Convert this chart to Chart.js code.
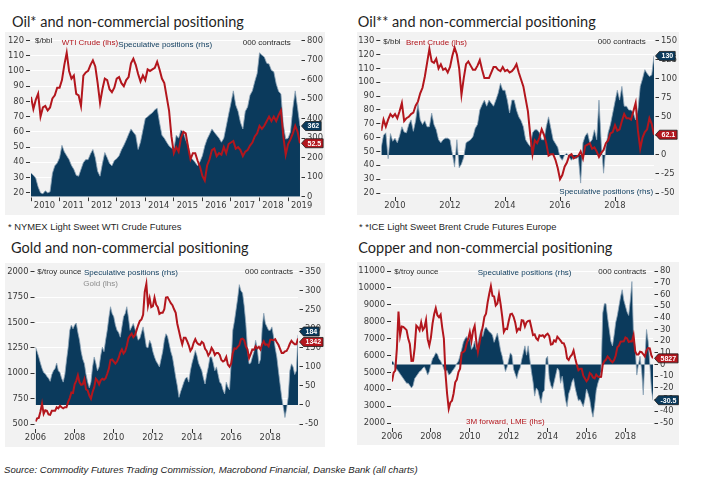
<!DOCTYPE html>
<html>
<head>
<meta charset="utf-8">
<script src="https://cdn.jsdelivr.net/npm/chart.js@4.4.1/dist/chart.umd.min.js"></script>
<style>
  body{margin:0;width:702px;height:500px;background:#fff;position:relative;overflow:hidden;font-family:"Liberation Sans",Arial,sans-serif;}
  .t{position:absolute;white-space:nowrap;line-height:1;}
  .ttl{font-family:Lato,"Liberation Sans",sans-serif;font-size:14.5px;color:#1f1f1f;}
  .note{font-size:9.4px;color:#1f1f1f;}
  .lb{font-size:8px;color:#2a2a2a;}
  .red{color:#b3161d;} .navy{color:#0b3a5c;} .grey{color:#8c8c8c;}
  .box{position:absolute;background:#f2f2f2;}
  .box canvas{position:absolute;left:0;top:0;}
</style>
</head>
<body>
<div class="box"><canvas id="c1"></canvas></div>
<div class="box"><canvas id="c2"></canvas></div>
<div class="box"><canvas id="c3"></canvas></div>
<div class="box"><canvas id="c4"></canvas></div>

<div class="t ttl" style="left:12px;top:15.2px">Oil* and non-commercial positioning</div>
<div class="t ttl" style="left:357.7px;top:15.2px">Oil** and non-commercial positioning</div>
<div class="t ttl" style="left:11px;top:240.9px">Gold and non-commercial positioning</div>
<div class="t ttl" style="left:358.3px;top:240.9px">Copper and non-commercial positioning</div>

<div class="t lb" style="left:35px;top:36.8px">$/bbl</div>
<div class="t lb red" style="left:61.7px;top:38.8px">WTI Crude (lhs)</div>
<div class="t lb navy" style="left:118.3px;top:41.1px">Speculative positions (rhs)</div>
<div class="t lb" style="left:242.7px;top:38.8px">000 contracts</div>

<div class="t lb" style="left:383.3px;top:37.8px">$/bbl</div>
<div class="t lb red" style="left:406px;top:38.8px">Brent Crude (lhs)</div>
<div class="t lb" style="left:597.7px;top:37.8px">000 contracts</div>
<div class="t lb navy" style="left:559.3px;top:187.8px">Speculative positions (rhs)</div>

<div class="t lb" style="left:37.3px;top:268.4px">$/troy ounce</div>
<div class="t lb navy" style="left:84px;top:269.4px">Speculative positions (rhs)</div>
<div class="t lb grey" style="left:83.3px;top:280.4px">Gold (lhs)</div>
<div class="t lb" style="left:245px;top:268.4px">000 contracts</div>

<div class="t lb" style="left:394.3px;top:267.8px">$/troy ounce</div>
<div class="t lb navy" style="left:477.7px;top:268.8px">Speculative positions (rhs)</div>
<div class="t lb" style="left:598.3px;top:267.8px">000 contracts</div>
<div class="t lb red" style="left:466px;top:417.8px">3M forward, LME (lhs)</div>

<div class="t note" style="left:8px;top:222.4px">* NYMEX Light Sweet WTI Crude Futures</div>
<div class="t note" style="left:359px;top:222.4px">* *ICE Light Sweet Brent Crude Futures Europe</div>
<div class="t note" style="left:4px;top:465.4px;font-style:italic;font-size:9.6px">Source: Commodity Futures Trading Commission, Macrobond Financial, Danske Bank (all charts)</div>

<script>
// ---- data (monthly) ----
const wtiYears = [2010,2011,2012,2013,2014,2015,2016,2017,2018,2019];
const wtiLeftTicks = [20,30,40,50,60,70,80,90,100,110,120];
const wtiRightTicks = [0,100,200,300,400,500,600,700,800];
const wtiPrice = [
  83,75,81,85,70,76,77,74,76,82,84,89,
  89,94,104,112,100,95,97,85,84,77,97,99,
  100,104,107,103,92,79,88,95,94,88,86,89,
  95,96,92,90,94,96,105,108,104,98,93,97,
  94,101,100,101,102,106,101,95,92,83,74,57,
  46,50,47,56,60,59,50,42,46,46,41,37,
  31,28,38,42,48,49,44,46,45,50,46,52,
  53,54,49,50,48,44,47,48,51,53,57,59,
  64,62,64,67,70,67,70,67,71,74,57,45,
  52,55,59,64,60,52.5
];
const wtiSpec = [
  121,110,95,50,20,15,30,20,25,120,158,172,
  200,263,230,210,190,160,140,110,105,140,175,190,
  190,220,242,200,130,105,170,226,200,170,158,185,
  195,210,240,263,290,320,347,330,315,242,280,340,
  400,410,421,430,445,453,380,315,300,279,260,250,
  242,315,300,342,330,290,263,200,190,175,158,180,
  210,260,295,320,347,330,315,300,279,300,360,421,
  480,542,470,437,380,347,437,460,520,542,590,631,
  737,725,716,684,680,647,640,579,540,526,368,295,
  300,332,453,542,453,362
];

const brentYears = [2010,2012,2014,2016,2018];
const brentLeftTicks = [20,30,40,50,60,70,80,90,100,110,120,130];
const brentRightTicks = [-50,-25,0,25,50,75,100,125,150];
const brentPrice = [
  65,73,68,73,77,75,
  77,74,79,85,72,74,75,77,78,83,86,92,
  96,104,114,124,115,114,117,110,113,109,110,107,
  111,119,125,120,110,91,103,113,115,112,109,109,
  112,116,109,103,103,103,107,111,111,109,108,111,
  108,109,107,108,110,113,107,102,97,88,79,62,
  48,58,56,60,66,62,56,47,48,48,44,38,
  30,33,39,42,47,48,45,46,47,50,45,54,
  55,56,52,53,50,46,49,51,56,58,63,64,
  69,65,66,72,77,74,74,73,79,85,65,52,
  60,64,66,74,70,62.1
];
const brentSpec = [
  10,26,29,-5,28,18,
  22,16,25,37,30,29,40,46,31,45,68,46,
  40,45,37,37,55,40,33,20,16,20,22,22,
  20,2,-16,20,-17,-12,-3,16,18,20,24,35,
  40,59,66,72,64,72,68,64,72,81,94,85,
  85,72,55,72,72,59,50,45,37,20,15,11,
  29,33,33,29,20,20,37,50,35,20,15,10,
  -3,-7,0,2,-3,-7,-3,-5,-3,-37,16,25,
  29,16,20,33,20,72,15,-24,10,29,40,55,
  70,85,72,90,64,64,59,59,55,46,60,90,
  100,112,107,103,105,130
];

const goldYears = [2006,2008,2010,2012,2014,2016,2018];
const goldLeftTicks = [500,750,1000,1250,1500,1750,2000];
const goldRightTicks = [-50,0,50,100,150,200,250,300,350];
const goldPrice = [
  525,555,560,620,700,600,635,630,595,590,630,630,
  630,665,655,680,665,655,665,665,715,755,810,805,
  890,925,980,910,885,890,940,840,830,780,750,815,
  860,945,925,890,930,945,935,950,995,1045,1130,1135,
  1115,1095,1115,1150,1205,1235,1195,1215,1270,1345,1370,1390,
  1355,1375,1425,1475,1515,1530,1575,1800,1880,1665,1740,1650,
  1660,1745,1675,1650,1585,1595,1595,1630,1745,1750,1720,1690,
  1670,1630,1595,1485,1415,1345,1285,1350,1350,1315,1275,1220,
  1245,1300,1335,1300,1285,1280,1310,1295,1240,1220,1175,1200,
  1250,1225,1180,1200,1200,1180,1130,1115,1125,1160,1085,1065,
  1095,1200,1245,1240,1260,1275,1335,1340,1325,1265,1235,1150,
  1190,1235,1230,1265,1245,1260,1235,1285,1315,1280,1285,1265,
  1330,1330,1325,1335,1305,1280,1240,1200,1200,1215,1220,1250,
  1290,1320,1300,1285,1285,1342
];
const goldSpec = [
  152,140,126,110,96,85,82,75,70,62,80,90,
  96,110,90,85,70,60,80,117,150,196,210,200,
  210,215,190,170,140,120,108,80,60,45,60,100,
  126,110,90,100,130,152,140,170,196,230,258,240,
  232,210,196,190,178,205,232,240,258,230,196,205,
  214,200,185,170,175,190,205,180,152,150,170,160,
  140,126,115,108,100,120,140,170,187,180,160,140,
  126,100,73,50,20,35,47,60,70,73,60,90,
  110,126,143,130,110,100,90,70,55,80,100,126,
  126,110,90,100,80,60,55,40,29,60,47,40,
  110,196,220,250,280,316,300,294,260,214,150,108,
  110,126,140,170,150,108,120,200,241,214,205,196,
  196,205,180,150,126,90,55,20,-6,-33,-10,20,
  90,108,100,80,90,184
];

const copperYears = [2006,2008,2010,2012,2014,2016,2018];
const copperLeftTicks = [2000,3000,4000,5000,6000,7000,8000,9000,10000,11000];
const copperRightTicks = [-50,-40,-30,-20,-10,0,10,20,30,40,50,60,70,80];
const copperPrice = [
  4450,4982,5103,6387,8600,7196,7712,7692,7600,7500,6996,6675,
  5670,5676,6452,7766,7662,7485,7960,7510,7652,8100,6963,6587,
  7061,7888,8439,8800,8382,8260,8414,7634,6990,4926,3717,2850,
  3220,3314,3749,4407,4569,5014,5216,6165,6196,6288,6676,6982,
  7386,6848,7463,7745,6838,6200,6735,7284,7709,8292,8470,9147,
  9650,10100,9530,9493,8959,9067,9619,9040,8300,7394,7581,7565,
  8040,8441,8471,8289,7955,7423,7584,7515,8088,8062,7711,7966,
  8047,8060,7645,7204,7250,7000,6906,7189,7159,7203,7071,7215,
  7291,7149,6650,6674,6891,6821,7113,7002,6872,6737,6713,6446,
  5831,5729,5940,6042,6295,5833,5456,5127,5217,5216,4800,4638,
  4472,4599,4954,4873,4695,4642,4864,4751,4722,4731,5450,5660,
  5755,5941,5825,5684,5600,5720,5985,6485,6580,6812,6827,6834,
  7066,7006,6799,6838,6825,7200,6250,6051,6054,6220,6195,6070,
  5939,6300,6440,6420,6000,5827
];
const copperSpec = [
  3,2,-3,-4,-6,-8,-10,-12,-14,-16,-16,-18,
  -20,-18,-12,-10,-8,-6,-5,-3,-2,-5,-9,-6,
  0,5,7,10,9,5,3,0,-4,-6,-5,-9,
  -8,-6,-4,-2,1,3,8,13,19,22,24,20,
  24,13,15,20,13,18,25,30,24,30,32,30,
  28,27,25,19,23,27,20,12,7,0,-6,-2,
  4,10,8,-4,-8,-12,-6,-3,4,10,16,8,
  16,5,-6,-15,-27,-20,-22,-28,-33,-24,-22,5,
  7,-12,-18,-21,-15,-9,-3,-5,-16,-10,-20,-30,
  -36,-25,-21,-15,-12,-20,-26,-31,-30,-33,-36,-30,
  -21,-25,-30,-39,-45,-35,-22,-16,-12,-6,44,52,
  52,40,30,20,16,25,36,42,50,58,64,55,
  50,45,42,55,71,24,15,-9,0,7,-5,-26,
  5,30,20,1,-21,-30.5
];

// ---- styling ----
const RED = '#b3161d', NAVY = '#0b3a5c', EDGE = '#8ea4b8';
Chart.defaults.font.family = '"DejaVu Sans", sans-serif';
Chart.defaults.font.size = 8.4;
Chart.defaults.color = '#3a3a3a';
Chart.defaults.animation = false;

function months(start, vals){ return vals.map(function(v,i){ return {x:start+i/12, y:v}; }); }

// little value flags at the right axis (last point of each series)
const flagPlugin = {
  id:'flags',
  afterDraw(chart){
    const ctx = chart.ctx, ca = chart.chartArea, H = 9;
    const items = chart.data.datasets.map(function(ds){
      const last = ds.data[ds.data.length-1].y;
      return {y: chart.scales[ds.yAxisID].getPixelForValue(last), text: String(last), color: ds.flagColor};
    }).sort(function(a,b){return a.y-b.y;});
    for(let k=1;k<items.length;k++){
      const a=items[k-1], b=items[k];
      if(b.y-a.y<H+1.5){ const m=(a.y+b.y)/2; a.y=m-(H+1.5)/2; b.y=m+(H+1.5)/2; }
    }
    ctx.save();
    ctx.font = 'bold 7px "Liberation Sans", Arial, sans-serif';
    items.forEach(function(it){
      const w = ctx.measureText(it.text).width + 4;
      const x0 = ca.right + 1.5, bx = x0 + 4;
      ctx.beginPath();
      ctx.moveTo(x0, it.y);
      ctx.lineTo(bx, it.y - H/2);
      ctx.lineTo(bx + w, it.y - H/2);
      ctx.lineTo(bx + w, it.y + H/2);
      ctx.lineTo(bx, it.y + H/2);
      ctx.closePath();
      ctx.fillStyle = it.color; ctx.fill();
      ctx.strokeStyle = '#1a1a1a'; ctx.lineWidth = 0.8; ctx.stroke();
      ctx.fillStyle = '#fff'; ctx.textAlign = 'center'; ctx.textBaseline = 'middle';
      ctx.fillText(it.text, bx + w/2, it.y + 0.5);
    });
    ctx.restore();
  }
};

function yAxis(pos, min, max, ticks, width, grid){
  return {
    type:'linear', position:pos, min:min, max:max,
    afterBuildTicks: function(s){ s.ticks = ticks.map(function(v){return {value:v};}); },
    afterFit: function(s){ s.width = width; },
    ticks:{ callback: function(v){ return String(v); }, padding:2, autoSkip:false },
    grid:{ drawOnChartArea:grid, color:'#ffffff', lineWidth:1, tickColor:'#333', tickLength:5,
           tickBorderDash: pos==='left' ? [4,20] : [0,1.5,3.5,20] },
    border:{ display:false }
  };
}

function xAxis(min, max, ticks, height, gap, labelOffset){
  return {
    type:'linear', min:min, max:max,
    afterBuildTicks: function(s){ s.ticks = ticks.map(function(v){return {value:v};}); },
    afterFit: function(s){ s.height = height; },
    ticks:{ callback: function(v){ return String(v); }, autoSkip:false, maxRotation:0, padding:0, labelOffset:labelOffset },
    grid:{ drawOnChartArea:false, tickColor:'#333', tickLength:gap+4, tickBorderDash:[0,gap,4,30] },
    border:{ display:false }
  };
}

function makePanel(p){
  const canvas = document.getElementById(p.id);
  const box = canvas.parentNode;
  const bx=p.bg[0], by=p.bg[1], bw=p.bg[2], bh=p.bg[3];
  const l=p.area[0], t=p.area[1], r=p.area[2], b=p.area[3];
  box.style.left=bx+'px'; box.style.top=by+'px'; box.style.width=bw+'px'; box.style.height=bh+'px';
  canvas.width=bw; canvas.height=bh;
  new Chart(canvas, {
    type:'line',
    data:{ datasets:[
      { data:p.price, yAxisID:'y', borderColor:RED, borderWidth:2, pointRadius:0, fill:false, flagColor:RED },
      { data:p.spec, yAxisID:'y1', borderColor:EDGE, borderWidth:0.8, backgroundColor:NAVY, pointRadius:0, fill:'origin', flagColor:NAVY }
    ]},
    options:{
      responsive:false, animation:false,
      layout:{ padding:{ top:t-by, left:0, right:0, bottom:0 } },
      plugins:{ legend:{display:false}, tooltip:{enabled:false} },
      elements:{ line:{ tension:0 } },
      scales:{
        x: xAxis(p.xMin, p.xMax, p.xTicks, by+bh-b, p.gap, p.labelOffset),
        y: yAxis('left', p.yL[0], p.yL[1], p.yL[2], l-bx, true),
        y1: yAxis('right', p.yR[0], p.yR[1], p.yR[2], bx+bw-r, false)
      }
    },
    plugins:[flagPlugin]
  });
}

makePanel({ id:'c1', bg:[5,32,320,183], area:[31,40.5,300,196.7],
  xMin:2010, xMax:2019.417, xTicks:wtiYears, gap:0.5, labelOffset:13.5,
  yL:[17.4,120,wtiLeftTicks], yR:[0,800,wtiRightTicks],
  price:months(2010,wtiPrice), spec:months(2010,wtiSpec) });

makePanel({ id:'c2', bg:[357,32,322,183], area:[381.25,40.7,654,193],
  xMin:2009.5, xMax:2019.417, xTicks:brentYears, gap:4, labelOffset:0,
  yL:[20,130,brentLeftTicks], yR:[-50,150,brentRightTicks],
  price:months(2009.5,brentPrice), spec:months(2009.5,brentSpec) });

makePanel({ id:'c3', bg:[5,263,320,184], area:[35.5,271.7,298,424],
  xMin:2006, xMax:2019.417, xTicks:goldYears, gap:5, labelOffset:0,
  yL:[500,2000,goldLeftTicks], yR:[-50,350,goldRightTicks],
  price:months(2006,goldPrice), spec:months(2006,goldSpec) });

makePanel({ id:'c4', bg:[357,262,322,183], area:[392,271,653,423],
  xMin:2006, xMax:2019.417, xTicks:copperYears, gap:5, labelOffset:0,
  yL:[2000,11000,copperLeftTicks], yR:[-50,80,copperRightTicks],
  price:months(2006,copperPrice), spec:months(2006,copperSpec) });
</script>
</body>
</html>
